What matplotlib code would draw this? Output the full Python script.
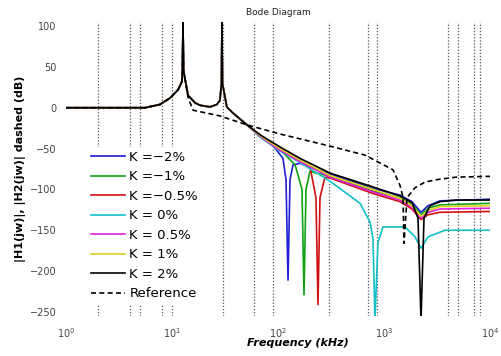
import matplotlib
matplotlib.use("Agg")
import matplotlib.pyplot as plt
import numpy as np

# ---------------------------------------------------------------------------
# Data (frequency in kHz, magnitude in dB)
# ---------------------------------------------------------------------------

# low-frequency part shared by all K curves (two resonances)
common_f = [1, 5.56, 7.7, 9.6, 11.4, 12.4, 12.55, 12.7, 12.85, 14.2, 16.5, 18.4,
            22.8, 26.5, 28.3, 29.3, 29.6, 29.9, 32.9, 37.6, 51.0]
common_db = [0, 0, 4, 12, 22, 32, 45, 105, 45, 15, 6, 3,
             1, 4, 9, 30, 105, 30, 1, -6.5, -21]

# high-frequency tails, one per K
tail_f_blue = [67.6, 92, 111.4, 119, 124.3, 129.8, 138.6, 161.4, 309.6, 787, 1416, 1837, 2234, 2601, 3375, 10000]
tail_db_blue = [-34, -48, -62, -88, -211, -88, -70, -68, -81, -99, -107, -115, -128, -120, -114, -112]

tail_f_green = [67.6, 104.4, 145, 168.4, 175.9, 183.7, 200.3, 309.6, 787, 1416, 1837, 2234, 2601, 3375, 10000]
tail_db_green = [-34, -51, -70, -100, -229, -100, -78, -84, -102, -110, -118, -131, -123, -119, -117]

tail_f_red = [67.6, 104.4, 161.4, 200.3, 228, 238.4, 249, 277, 309.6, 787, 1416, 1837, 2234, 2601, 3375, 10000]
tail_db_red = [-35, -52, -65, -72, -110, -241, -110, -85, -86, -105, -115, -124, -137, -131, -128, -127]

tail_f_cyan = [67.6, 104.4, 161.4, 309.6, 594, 738, 787, 822, 877, 979, 1578, 1960, 2234, 2601, 3762, 10000]
tail_db_cyan = [-36, -53, -67, -90, -117, -140, -160, -260, -165, -146, -146, -158, -172, -158, -150, -150]

tail_f_mag = [67.6, 104.4, 161.4, 309.6, 787, 1416, 1837, 2234, 2601, 3375, 10000]
tail_db_mag = [-35, -52, -66, -85, -103, -113, -122, -135, -128, -124, -123]

tail_f_yel = [67.6, 104.4, 161.4, 309.6, 787, 1416, 1837, 2234, 2601, 3375, 10000]
tail_db_yel = [-34, -50, -64, -83, -100, -111, -120, -133, -126, -121, -120]

tail_f_blk = [67.6, 104.4, 161.4, 309.6, 787, 1416, 1837, 2093, 2234, 2385, 2716, 3375, 4778, 10000]
tail_db_blk = [-33, -48, -62, -80, -97, -108, -116, -135, -260, -135, -120, -115, -113, -113]

# reference system (dashed)
ref_f = [1, 5.56, 7.7, 9.6, 11.4, 12.4, 12.55, 12.7, 12.85, 14.2, 15.8, 28.3, 51, 111,
         310, 662, 1216, 1416, 1511, 1544, 1648, 1960, 2436, 3162, 4778, 10000]
ref_db = [0, 0, 4, 12, 22, 32, 45, 105, 45, 12, -3, -10, -21, -33,
          -47, -58, -76, -95, -110, -166, -110, -98, -91, -88, -85, -84]

k_labels = ["K =\u22122%", "K =\u22121%", "K =\u22120.5%", "K = 0%",
            "K = 0.5%", "K = 1%", "K = 2%"]
k_colors = ["#1f1fd6", "#10a010", "#d01010", "#10c0c8", "#e020e0", "#e0d020", "#000000"]
tails = [(tail_f_blue, tail_db_blue), (tail_f_green, tail_db_green),
         (tail_f_red, tail_db_red), (tail_f_cyan, tail_db_cyan),
         (tail_f_mag, tail_db_mag), (tail_f_yel, tail_db_yel),
         (tail_f_blk, tail_db_blk)]

# frequencies of the vertical dotted markers
marker_f = [2, 4, 5, 8, 10, 30, 60, 90, 300, 700, 860, 4000, 5000, 7000, 8000]

xticks = [1, 10, 100, 1000, 10000]
yticks = [100, 50, 0, -50, -100, -150, -200, -250]

# ---------------------------------------------------------------------------
fig = plt.figure(figsize=(5.02, 3.56), dpi=100)
ax = fig.add_axes([66 / 502, 1 - 316 / 356, 424 / 502, 294 / 356])

for f in marker_f:
    ax.axvline(f, color="#555555", linestyle=(0, (1, 1.5)), linewidth=0.9, zorder=1)

for label, color, (tf, tdb) in zip(k_labels, k_colors, tails):
    f = common_f + tf
    db = common_db + tdb
    ax.plot(f, db, color=color, linewidth=1.2, label=label, zorder=3)

ax.plot(ref_f, ref_db, color="black", linestyle=(0, (3, 2)), linewidth=1.2,
        label="Reference", zorder=4)

ax.set_xscale("log")
ax.set_xlim(1, 10000)
ax.set_ylim(-255, 105)
ax.set_xticks(xticks)
ax.set_yticks(yticks)
ax.minorticks_off()
ax.tick_params(axis="both", length=0, labelsize=7, labelcolor="#444444")
ax.tick_params(axis="y", pad=7)
ax.tick_params(axis="x", pad=7)
for s in ax.spines.values():
    s.set_visible(False)

ax.set_title("Bode Diagram", fontsize=6.5, pad=5, color="#222222")
ax.set_xlabel("Frequency (kHz)", fontsize=8, fontweight="bold", fontstyle="italic")
ax.xaxis.set_label_coords((298 - 66) / 424, -0.075)
ax.set_ylabel("|H1(jw)|, |H2(jw)| dashed (dB)", fontsize=8, fontweight="bold")
ax.yaxis.set_label_coords((26 - 66) / 424, 0.5)

leg = ax.legend(loc="lower left", bbox_to_anchor=(0.05, 0.04),
                fontsize=9.5, handlelength=2.6, labelspacing=0.49,
                handletextpad=0.3, borderaxespad=0, borderpad=0.3,
                frameon=True, fancybox=False,
                framealpha=1, facecolor="white", edgecolor="white")
leg.set_zorder(5)

fig.savefig("out.png", dpi=100)
